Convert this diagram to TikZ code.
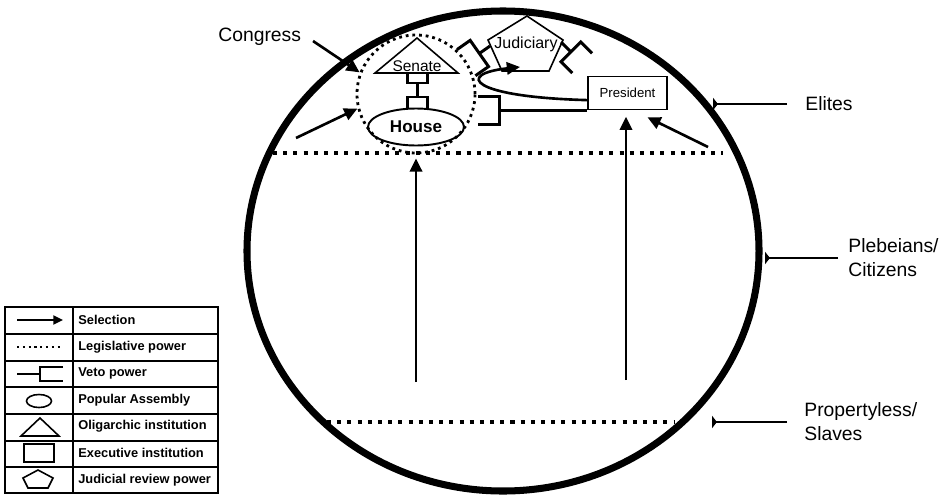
\documentclass[tikz,border=0pt]{standalone}
\usepackage{fontspec}
\setmainfont{Liberation Sans}
\usetikzlibrary{arrows.meta,positioning,shapes.geometric}

\tikzset{
  sel/.style={line width=1.5pt,-{Triangle[length=7.5pt,width=7pt]}},
  legis/.style={line width=2.3pt,dash pattern=on 2.3pt off 3.5pt},
  vetoline/.style={line width=1.7pt},
  outline/.style={draw,line width=0.9pt},
  lab/.style={inner sep=0pt,font=\fontsize{11}{13.6}\selectfont,align=left},
  labline/.style={line width=1.1pt,-{Triangle[reversed,length=2.8pt,width=7pt]}},
  legtext/.style={anchor=west,inner sep=0pt,font=\fontsize{7.3}{8}\selectfont\bfseries},
}
% veto sign: start, angle, stem, half width, arm
\newcommand{\vetosym}[6][]{\draw[vetoline,#1,shift={#2},rotate=#3] (0,0) -- (#4,0) (#4+#6,-#5) -- (#4,-#5) -- (#4,#5) -- (#4+#6,#5);}

\begin{document}
\begin{tikzpicture}[x=0.2mm,y=-0.2mm]
\useasboundingbox (0,0) rectangle (947,500);
% society
\draw[line width=4pt] (503,251) ellipse [x radius=51.2mm,y radius=48mm];
\draw[legis] (273,153) -- (723,153);
\draw[legis] (327,422) -- (675,422);

% congress
\node[circle,draw,line width=1.6pt,dash pattern=on 1.6pt off 2.2pt,minimum size=23.6mm,inner sep=0pt] (cong) at (416,94) {};
\node[ellipse,draw,line width=1.1pt,minimum width=19.2mm,minimum height=7.4mm,inner sep=0pt,font=\fontsize{9.7}{11}\selectfont\bfseries] (house) at (416,127) {House};
\draw[outline] (375,73) -- (417,38) -- (458,73) -- cycle;
\node[inner sep=0pt,anchor=base,font=\fontsize{8.8}{10}\selectfont] (senate) at (417,71.5) {Senate};
\vetosym{(417,97)}{90}{14}{10}{10}
\vetosym{(417,83)}{-90}{14}{10}{11}

% judiciary and president
\draw[outline,fill=white] (527,16) -- (563,40) -- (549,71) -- (502,71) -- (488,40) -- cycle;
\node[inner sep=0pt,anchor=base,font=\fontsize{9.1}{10}\selectfont] (jud) at (526,48) {Judiciary};
\node[draw,line width=0.9pt,minimum width=15.8mm,minimum height=6.6mm,inner sep=0pt,font=\fontsize{7.5}{9}\selectfont] (pres) at (627.5,93) {President};
\vetosym{(pres.south west)}{180}{88}{14}{21}
\vetosym{(490,46)}{215}{13}{16}{16}
\vetosym{(561,42)}{-45}{14}{14}{16}

% selection
\node[lab,anchor=base west] (congress) at (218,41) {Congress};
\coordinate (congSel) at (313,41);
\draw[sel] (congSel) -- (cong.159);
\coordinate (eliteVote) at (296,138);
\draw[sel] (eliteVote) -- (cong.194);
\coordinate (plebL) at (416,382);
\draw[sel,shorten >=0.8mm] (plebL) -- (cong.south);
\coordinate (plebR) at (626,380);
\draw[sel,shorten >=1.3mm] (plebR) -- (pres.south -| plebR);
\coordinate (eliteVoteR) at (708,147);
\draw[sel] (eliteVoteR) -- ([xshift=4mm,yshift=-1.4mm]pres.south);
\coordinate (judIn) at (520,67);
\draw[sel] (pres.190) .. controls (470,97) and (455,74) .. (judIn);

% classes
\coordinate (eliteTip) at (713,104);
\node[lab,right=18.4mm of eliteTip] (elites) {Elites};
\draw[labline,shorten <=3.6mm] (elites.west) -- (eliteTip);
\coordinate (plebTip) at (765,258);
\node[lab,right=16.6mm of plebTip] (pleb) {Plebeians/\\Citizens};
\draw[labline,shorten <=2mm] (pleb.west) -- (plebTip);
\coordinate (propTip) at (712,422);
\node[lab,right=18.4mm of propTip] (prop) {Propertyless/\\Slaves};
\draw[labline,shorten <=3.4mm] (prop.west) -- (propTip);

% legend
\draw[line width=1pt] (5,307) rectangle (218,493);
\draw[line width=0.8pt] (73,307) -- (73,493);
\foreach \y in {334,361,387,414,441,467} \draw[line width=0.8pt] (5,\y) -- (218,\y);
\foreach \t [count=\i] in {Selection,Legislative power,Veto power,Popular Assembly,Oligarchic institution,Executive institution,Judicial review power}
  \node[legtext] (leg\i) at (78,{293.7+26.6*\i}) {\t};
\draw[line width=1.3pt,-{Triangle[length=5.5pt,width=5pt]}] (17,320) -- (63,320);
\draw[line width=1.3pt,dash pattern=on 1.3pt off 2pt] (17,347) -- (63,347);
\vetosym[line width=1.3pt]{(17,374)}{0}{23}{7}{23}
\draw[line width=0.9pt] (39,401) ellipse [x radius=2.5mm,y radius=1.3mm];
\draw[line width=0.9pt] (21,436) -- (40,418) -- (59,436) -- cycle;
\draw[line width=0.9pt] (24,444) rectangle (54,462);
\draw[line width=0.9pt] (38,470) -- (53,478) -- (48,488) -- (28,488) -- (23,478) -- cycle;
\end{tikzpicture}
\end{document}
